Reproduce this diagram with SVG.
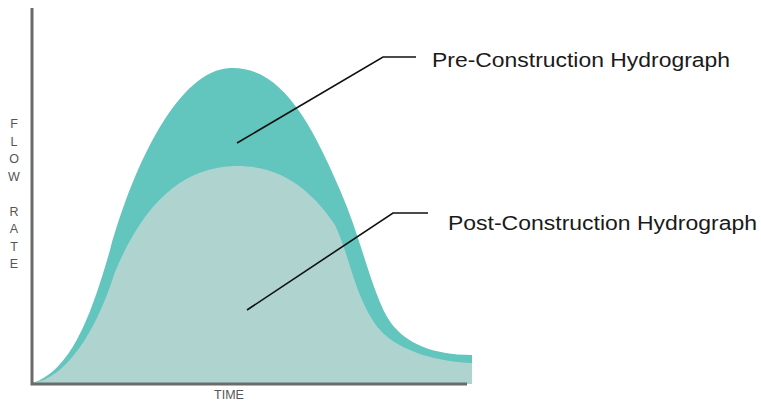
<svg xmlns="http://www.w3.org/2000/svg" width="761" height="404" viewBox="0 0 761 404">
<style>
.axis{stroke:#6b6b6b;stroke-width:3;fill:none}
.lead{stroke:#111;stroke-width:1.6;fill:none}
.lbl{font-family:"Liberation Sans",Arial,sans-serif;font-size:20px;fill:#1a1a1a}
.ax{font-family:"Liberation Sans",Arial,sans-serif;font-size:12.5px;fill:#555;text-anchor:middle}
</style>
<rect width="761" height="404" fill="#ffffff"/>
<g id="pre-curve">
<path fill="#62c5be" d="M33,383 C70,370 90,320 110,250 C135,160 180,70 230,68 C280,66 310,120 340,190 C362,240 373,298 391,323 C406,343 432,355 472,355 V384 H33 Z"/>
</g>
<g id="post-curve">
<path fill="#afd4d0" d="M33,383 C65,378 95,335 115,272 C145,200 185,167 235,166 C285,165 315,195 335,225 C350,256 355,300 380,330 C400,352 440,362 472,363 V384 H33 Z"/>
</g>
<g id="axes">
<path class="axis" d="M32,8 V384 H467"/>
<text class="ax" x="229" y="399">TIME</text>
<g class="ax" font-size="13.5px">
<text x="14" y="128">F</text>
<text x="14" y="145.5">L</text>
<text x="14" y="163">O</text>
<text x="14" y="180.5">W</text>
<text x="14" y="215.5">R</text>
<text x="14" y="233">A</text>
<text x="14" y="250.5">T</text>
<text x="14" y="268">E</text>
</g>
</g>
<g id="connectors">
<path class="lead" d="M237,143 L383,57 H416"/>
<path class="lead" d="M247,310 L393,213 H428"/>
</g>
<g id="label-pre">
<text class="lbl" x="432" y="67" textLength="298" lengthAdjust="spacingAndGlyphs">Pre-Construction Hydrograph</text>
</g>
<g id="label-post">
<text class="lbl" x="448" y="230" textLength="309" lengthAdjust="spacingAndGlyphs">Post-Construction Hydrograph</text>
</g>
</svg>
